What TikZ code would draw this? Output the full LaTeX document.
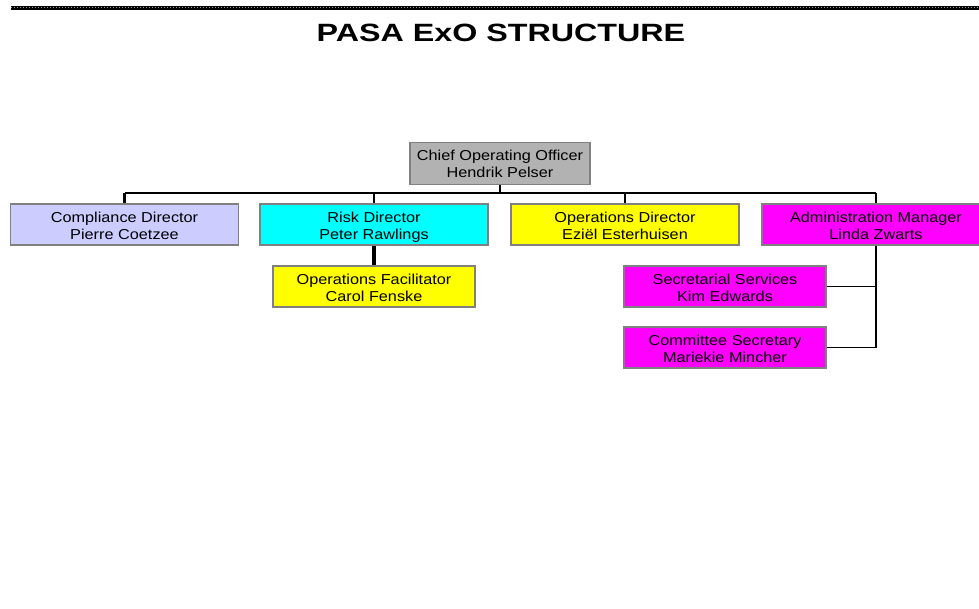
\documentclass[tikz,border=0pt]{standalone}
\usepackage{fontspec}
\setmainfont{Liberation Sans}
\newfontfamily\boxfont[FakeStretch=1.13]{Liberation Sans}
\newfontfamily\titlefont[FakeStretch=1.29]{Liberation Sans}
\definecolor{cooGray}{HTML}{B2B2B2}
\definecolor{compBlue}{HTML}{CCCCFF}
\definecolor{riskCyan}{HTML}{00FFFF}
\definecolor{opsYellow}{HTML}{FFFF00}
\definecolor{adminMag}{HTML}{FF00FF}
\definecolor{borderGray}{HTML}{808080}
\definecolor{dotGray}{HTML}{9A9A9A}
\tikzset{
  orgbox/.style={draw=borderGray, line width=1.6pt, minimum height=41pt, inner sep=0pt,
    align=center, font=\boxfont\fontsize{14.4}{16.9}\selectfont,
    text height=34pt, text depth=5pt},
  wide/.style={orgbox, minimum width=228pt},
  narrow/.style={orgbox, minimum width=202pt},
  link/.style={black, line width=2.2pt},
  thinlink/.style={black, line width=1.6pt},
  thicklink/.style={black, line width=3.4pt},
}
\begin{document}
\begin{tikzpicture}[x=1pt,y=-1pt]
\useasboundingbox (0,0) rectangle (979,608);
\clip (0,0) rectangle (979,608);
% top rule
\coordinate (ruleL) at (11,7.5);
\coordinate (ruleR) at (979,7.5);
\draw[black, line width=4pt] (ruleL) -- (ruleR);
\draw[dotGray, line width=1.4pt, dash pattern=on 1.2pt off 1.8pt] (ruleL) -- (ruleR);
% title
\node[font=\titlefont\bfseries\fontsize{25}{28}\selectfont, anchor=base, inner sep=0pt] (title) at (501,41) {PASA ExO STRUCTURE};
% boxes
\node[orgbox, fill=cooGray, minimum width=180pt, minimum height=42pt, text height=33pt, text depth=6pt] (coo) at (500,163.5) {Chief Operating Officer\\Hendrik Pelser};
\node[wide, fill=compBlue] (comp) at (124.5,224.5) {Compliance Director\\Pierre Coetzee};
\node[wide, fill=riskCyan] (risk) at (374,224.5) {Risk Director\\Peter Rawlings};
\node[wide, fill=opsYellow] (opsdir) at (625,224.5) {Operations Director\\Ezi\"el Esterhuisen};
\node[wide, fill=adminMag] (admin) at (876,224.5) {Administration Manager\\Linda Zwarts};
\node[narrow, fill=opsYellow] (opsfac) at (374,286.5) {Operations Facilitator\\Carol Fenske};
\node[narrow, fill=adminMag] (sec) at (725,286.5) {Secretarial Services\\Kim Edwards};
\node[narrow, fill=adminMag] (comm) at (725,347.5) {Committee Secretary\\Mariekie Mincher};
% connectors
\coordinate (busL) at (124.5,193);
\coordinate (busR) at (876,193);
\coordinate (busM) at (500,193);
\draw[link] (coo.south) -- (busM);
\draw[link] (busL) -- (busR);
\draw[link] (busL) -- (comp.north);
\draw[link] (risk.north |- busM) -- (risk.north);
\draw[link] (opsdir.north |- busM) -- (opsdir.north);
\draw[link] (busR) -- (admin.north);
\draw[thicklink] (risk.south) -- (opsfac.north);
\draw[thinlink] (admin.south) -- (admin.south |- comm.east) -- (comm.east);
\draw[thinlink] (sec.east) -- (sec.east -| admin.south);
\end{tikzpicture}
\end{document}
